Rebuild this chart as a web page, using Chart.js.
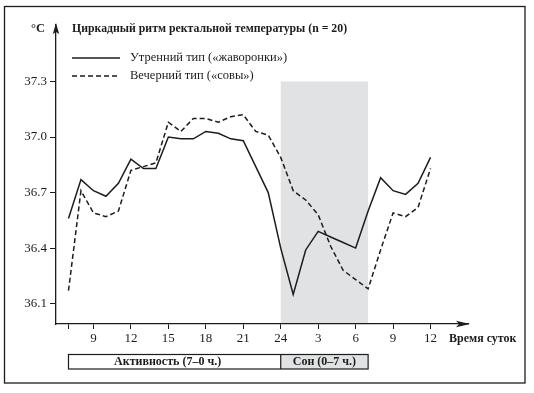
<!DOCTYPE html>
<html><head><meta charset="utf-8">
<script src="https://cdn.jsdelivr.net/npm/chart.js@4.4.1/dist/chart.umd.min.js"></script>
<style>html,body{margin:0;padding:0;background:#fff;}#wrap{width:534px;height:393px;position:relative;}</style>
</head><body><div id="wrap"><canvas id="c" width="534" height="393"></canvas></div>
<script>
// ---- data ----
const hours = [7,8,9,10,11,12,13,14,15,16,17,18,19,20,21,22,23,24,25,26,27,28,29,30,31,32,33,34,35,36];
const morningType = [36.56,36.77,36.71,36.68,36.75,36.88,36.83,36.83,37.00,36.99,36.99,37.03,37.02,36.99,36.98,36.84,36.70,36.40,36.15,36.39,36.49,36.46,36.43,36.40,36.60,36.78,36.71,36.69,36.75,36.89];
const eveningType = [36.17,36.71,36.59,36.57,36.60,36.82,36.84,36.86,37.08,37.03,37.10,37.10,37.08,37.11,37.12,37.03,37.01,36.89,36.71,36.66,36.58,36.41,36.28,36.23,36.18,36.39,36.59,36.57,36.62,36.83];
const xTickHours = [7,9,12,15,18,21,24,27,30,33,36];
const xTickLabels = ['','9','12','15','18','21','24','3','6','9','12'];
const yTickValues = [36.1,36.4,36.7,37.0,37.3];
const titleText = 'Циркадный ритм ректальной температуры (n = 20)';
const unitText = '°C';
const xAxisTitle = 'Время суток';
const seriesNames = ['Утренний тип («жаворонки»)','Вечерний тип («совы»)'];
const sleepPeriod = [24, 31];
const activityPeriod = [7, 24];
const periodLabels = ['Активность (7–0 ч.)','Сон (0–7 ч.)'];
const sleepTop = 37.3;

const INK = '#1c1c1c';
const GREY = '#e1e2e3';
const SERIF = '"Liberation Serif", "DejaVu Serif", serif';

const decor = {
  id: 'decor',
  beforeDraw(chart) {
    const c = chart.ctx, xs = chart.scales.x, ys = chart.scales.y, a = chart.chartArea;
    c.save();
    c.fillStyle = '#fff'; c.fillRect(0,0,chart.width,chart.height);
    c.strokeStyle = INK; c.lineWidth = 1.3;
    c.strokeRect(4.5, 6.5, 520.5, 376.5);
    c.fillStyle = GREY;
    const x0 = xs.getPixelForValue(sleepPeriod[0]), x1 = xs.getPixelForValue(sleepPeriod[1]);
    const yt = ys.getPixelForValue(sleepTop);
    c.fillRect(x0, yt, x1 - x0, a.bottom - yt);
    c.restore();
  },
  afterDraw(chart) {
    const c = chart.ctx, xs = chart.scales.x, ys = chart.scales.y, a = chart.chartArea;
    c.save();
    c.fillStyle = INK; c.strokeStyle = INK;
    // y arrow
    c.beginPath(); c.moveTo(a.left, a.top - 2); c.lineTo(a.left - 3.2, a.top + 9); c.lineTo(a.left, a.top + 7); c.lineTo(a.left + 3.2, a.top + 9); c.closePath(); c.fill();
    // x arrow
    c.beginPath(); c.moveTo(a.right + 2, a.bottom); c.lineTo(a.right - 12, a.bottom - 3.2); c.lineTo(a.right - 9, a.bottom); c.lineTo(a.right - 12, a.bottom + 3.2); c.closePath(); c.fill();
    // title & unit
    c.textBaseline = 'middle'; c.textAlign = 'left';
    c.font = 'bold 11.8px ' + SERIF;
    c.fillText(titleText, 72, 28.5);
    c.font = 'bold 12.5px ' + SERIF;
    c.fillText(unitText, 31, 28.5);
    // legend
    c.font = '12.5px ' + SERIF;
    c.lineWidth = 1.4;
    c.beginPath(); c.moveTo(72, 58); c.lineTo(120, 58); c.stroke();
    c.setLineDash([5,3]);
    c.beginPath(); c.moveTo(72, 76); c.lineTo(120, 76); c.stroke();
    c.setLineDash([]);
    c.fillText(seriesNames[0], 130, 58);
    c.fillText(seriesNames[1], 130, 76);
    // x axis title
    c.font = 'bold 12px ' + SERIF;
    c.fillText(xAxisTitle, 449, 339);
    // period bar
    const px0 = xs.getPixelForValue(activityPeriod[0]);
    const pxm = xs.getPixelForValue(activityPeriod[1]);
    const px1 = xs.getPixelForValue(sleepPeriod[1]);
    const top = 354.5, h = 14.5;
    c.fillStyle = GREY; c.fillRect(pxm, top, px1 - pxm, h);
    c.lineWidth = 1.2; c.strokeStyle = INK;
    c.strokeRect(px0, top, px1 - px0, h);
    c.beginPath(); c.moveTo(pxm, top); c.lineTo(pxm, top + h); c.stroke();
    c.fillStyle = INK; c.textAlign = 'center';
    c.font = 'bold 12px ' + SERIF;
    c.fillText(periodLabels[0], (px0 + pxm) / 2 - 7, top + h / 2 + 0.5);
    c.fillText(periodLabels[1], (pxm + px1) / 2, top + h / 2 + 0.5);
    c.restore();
  }
};

const tickFont = { family: SERIF, size: 13 };
new Chart(document.getElementById('c'), {
  type: 'line',
  data: {
    datasets: [
      { label: seriesNames[0], data: hours.map((h,i)=>({x:h, y:morningType[i]})), borderColor: INK, borderWidth: 1.5, pointRadius: 0, tension: 0, fill: false },
      { label: seriesNames[1], data: hours.map((h,i)=>({x:h, y:eveningType[i]})), borderColor: INK, borderWidth: 1.5, borderDash: [5,3], pointRadius: 0, tension: 0, fill: false }
    ]
  },
  options: {
    responsive: false, animation: false, devicePixelRatio: 1,
    layout: { padding: { left: 0, top: 25, right: 66, bottom: 0 } },
    plugins: { legend: { display: false }, title: { display: false }, tooltip: { enabled: false } },
    scales: {
      x: {
        type: 'linear', min: 6, max: 39,
        afterBuildTicks: s => { s.ticks = xTickHours.map(v => ({ value: v })); },
        afterFit: s => { s.height = 69; },
        grid: { display: true, drawOnChartArea: false, drawTicks: true, tickLength: 5, color: INK, lineWidth: 1 },
        border: { display: true, color: INK, width: 1.3 },
        ticks: { callback: (v, i) => xTickLabels[i], font: tickFont, color: INK, padding: 2, maxRotation: 0, autoSkip: false }
      },
      y: {
        type: 'linear', min: 35.99, max: 37.605,
        afterBuildTicks: s => { s.ticks = yTickValues.map(v => ({ value: v })); },
        afterFit: s => { s.width = 56; },
        grid: { display: true, drawOnChartArea: false, drawTicks: true, tickLength: 6, color: INK, lineWidth: 1 },
        border: { display: true, color: INK, width: 1.3 },
        ticks: { callback: v => Number(v).toFixed(1), font: tickFont, color: INK, padding: 3 }
      }
    }
  },
  plugins: [decor]
});
</script></body></html>
